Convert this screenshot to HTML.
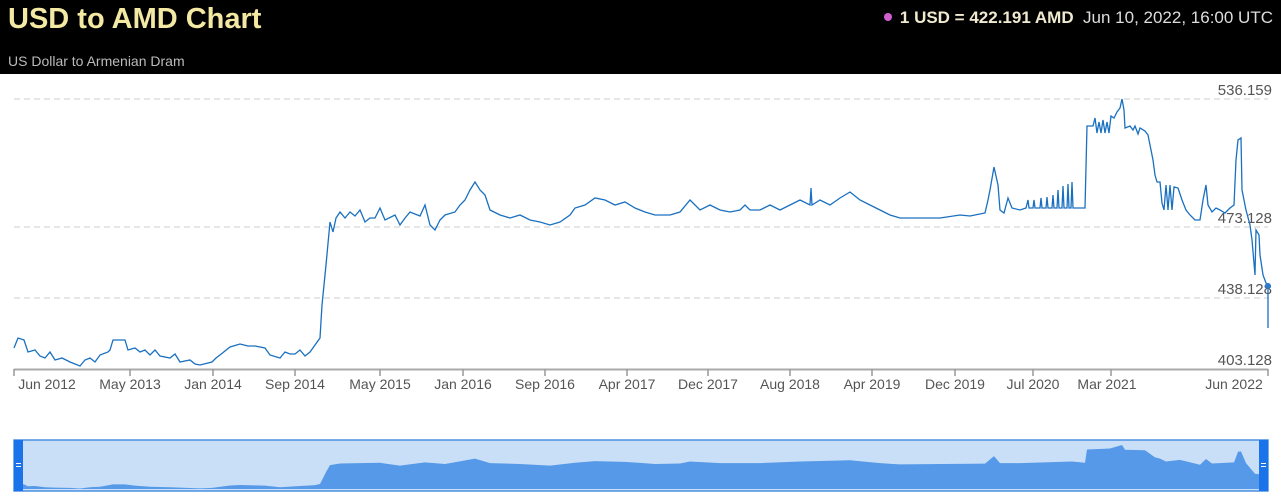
<!DOCTYPE html>
<html><head><meta charset="utf-8"><style>
body{margin:0;width:1281px;height:502px;background:#fff;font-family:"Liberation Sans",sans-serif;overflow:hidden;position:relative}
.hdr{position:absolute;left:0;top:0;width:1281px;height:74px;background:#000}
.t{position:absolute;left:8px;top:3px;font-size:29px;font-weight:bold;color:#f3e9a3}
.s{position:absolute;left:8px;top:53px;font-size:14px;color:#bbb}
.r{position:absolute;right:8px;top:8px;font-size:17px;color:#ddd}
.r b{color:#f0ead0}
.dot{display:inline-block;width:8px;height:8px;border-radius:50%;background:#d060d0;margin-right:8px;vertical-align:2px}
</style></head><body>
<div class="hdr"><div class="t">USD to AMD Chart</div><div class="s">US Dollar to Armenian Dram</div>
<div class="r"><span class="dot"></span><b>1 USD = 422.191 AMD</b>&nbsp; Jun 10, 2022, 16:00 UTC</div></div>
<svg width="1281" height="502" style="position:absolute;left:0;top:0" font-family="Liberation Sans, sans-serif">
<defs>
<path id="ln" d="M14,348 L18,338 L24,340 L28,352 L35,350 L40,356 L45,358 L50,352 L55,360 L62,358 L70,362 L80,366 L85,360 L90,358 L95,362 L100,355 L108,352 L110,350 L113,340 L125,340 L128,350 L135,348 L140,352 L145,350 L150,355 L155,350 L160,356 L170,358 L175,354 L180,362 L190,360 L195,364 L200,365 L212,362 L216,358 L220,355 L230,347 L240,344 L248,346 L255,346 L265,348 L270,355 L280,358 L285,352 L290,354 L295,354 L300,350 L305,356 L310,352 L315,345 L320,338 L322,305 L326,265 L330,222 L333,232 L336,218 L340,212 L345,218 L350,212 L355,216 L360,210 L365,222 L370,218 L375,218 L380,208 L385,220 L395,215 L400,225 L405,218 L410,212 L420,216 L425,205 L430,225 L435,230 L440,220 L445,215 L455,212 L460,205 L465,200 L470,190 L475,182 L480,190 L485,195 L490,210 L500,215 L510,218 L520,215 L530,220 L540,222 L550,225 L560,222 L570,215 L575,208 L585,205 L595,198 L605,200 L615,205 L625,202 L635,208 L645,212 L655,215 L670,215 L680,212 L690,200 L700,210 L710,205 L720,210 L730,212 L740,210 L745,205 L750,210 L760,210 L770,205 L780,210 L790,205 L800,200 L810,205 L811,188 L812,205 L820,200 L830,205 L840,198 L850,192 L860,200 L870,205 L880,210 L890,215 L900,218 L920,218 L940,218 L960,215 L970,216 L985,213 L988,200 L990,190 L994,167 L998,185 L1000,210 L1004,213 L1008,198 L1012,208 L1020,210 L1026,208 L1028,200 L1029,208 L1033,208 L1034,200 L1035,208 L1040,208 L1041,198 L1042,208 L1046,208 L1047,197 L1048,208 L1052,208 L1053,195 L1054,208 L1057,208 L1058,190 L1059,208 L1062,208 L1063,186 L1064,208 L1067,208 L1068,184 L1069,208 L1071,208 L1072,182 L1073,208 L1085,208 L1087,126 L1093,126 L1095,118 L1097,133 L1099,122 L1101,133 L1103,120 L1105,133 L1107,122 L1109,133 L1111,116 L1114,118 L1117,112 L1120,108 L1122,99 L1124,110 L1125,128 L1130,126 L1133,130 L1135,126 L1138,134 L1140,128 L1145,131 L1148,135 L1150,145 L1153,160 L1155,175 L1157,182 L1160,182 L1162,203 L1164,210 L1166,185 L1168,210 L1170,185 L1172,210 L1174,187 L1178,188 L1182,200 L1186,210 L1190,215 L1195,220 L1200,220 L1203,200 L1206,185 L1208,205 L1212,212 L1216,208 L1220,210 L1225,213 L1230,208 L1234,205 L1236,160 L1238,140 L1241,138 L1242,190 L1244,200 L1246,210 L1250,225 L1252,240 L1255,275 L1256,230 L1259,235 L1260,255 L1263,275 L1266,283 L1268,285 L1268,328"/>
</defs>
<g stroke="#d6d6d6" stroke-dasharray="6,4" stroke-width="1.2">
<line x1="14" x2="1268" y1="99" y2="99"/><line x1="14" x2="1268" y1="227" y2="227"/><line x1="14" x2="1268" y1="298" y2="298"/>
</g>
<g fill="#555" font-size="15" text-anchor="end">
<text x="1272" y="95">536.159</text><text x="1272" y="223">473.128</text><text x="1272" y="294">438.128</text><text x="1272" y="365">403.128</text>
</g>
<use href="#ln" fill="none" stroke="#1a70c0" stroke-width="1.3"/>
<circle cx="1268" cy="286" r="3" fill="#2b7ad0"/>
<line x1="14" x2="1268" y1="369.5" y2="369.5" stroke="#aaa" stroke-width="2"/>
<g stroke="#999" stroke-width="1.5">
<line x1="14" x2="14" y1="369" y2="376"/><line x1="130" x2="130" y1="369" y2="376"/><line x1="213" x2="213" y1="369" y2="376"/><line x1="295" x2="295" y1="369" y2="376"/><line x1="380" x2="380" y1="369" y2="376"/><line x1="463" x2="463" y1="369" y2="376"/><line x1="545" x2="545" y1="369" y2="376"/><line x1="627" x2="627" y1="369" y2="376"/><line x1="708" x2="708" y1="369" y2="376"/><line x1="790" x2="790" y1="369" y2="376"/><line x1="872" x2="872" y1="369" y2="376"/><line x1="955" x2="955" y1="369" y2="376"/><line x1="1033" x2="1033" y1="369" y2="376"/><line x1="1111" x2="1111" y1="369" y2="376"/><line x1="1268" x2="1268" y1="369" y2="376"/>
</g>
<g fill="#555" font-size="14" text-anchor="middle">
<text x="47" y="389">Jun 2012</text><text x="130" y="389">May 2013</text><text x="213" y="389">Jan 2014</text><text x="295" y="389">Sep 2014</text><text x="380" y="389">May 2015</text><text x="463" y="389">Jan 2016</text><text x="545" y="389">Sep 2016</text><text x="627" y="389">Apr 2017</text><text x="708" y="389">Dec 2017</text><text x="790" y="389">Aug 2018</text><text x="872" y="389">Apr 2019</text><text x="955" y="389">Dec 2019</text><text x="1033" y="389">Jul 2020</text><text x="1107" y="389">Mar 2021</text><text x="1234" y="389">Jun 2022</text>
</g>
<rect x="14" y="440" width="1254" height="51" fill="#c9dff8" stroke="#4a90e2" stroke-width="1.5"/>
<g transform="translate(0,428.9) scale(1,0.163)">
<path d="M14,369 L14,348 L18,338 L24,340 L28,352 L35,350 L45,358 L55,360 L70,362 L80,366 L90,358 L100,355 L113,340 L125,340 L135,348 L150,355 L170,358 L200,365 L212,362 L230,347 L240,344 L265,348 L280,358 L300,350 L315,345 L320,338 L326,265 L330,222 L340,212 L360,210 L380,208 L400,225 L425,205 L445,215 L475,182 L490,210 L520,215 L550,225 L575,208 L595,198 L625,202 L655,215 L680,212 L690,200 L720,210 L760,210 L800,200 L850,192 L880,210 L900,218 L985,213 L994,167 L1000,210 L1020,210 L1072,200 L1085,208 L1087,126 L1110,120 L1122,99 L1125,128 L1145,131 L1155,175 L1160,182 L1166,200 L1180,190 L1200,220 L1206,185 L1212,212 L1234,205 L1238,140 L1241,138 L1246,210 L1255,275 L1268,285 L1268,369 Z" fill="#5599e8"/>
</g>
<rect x="14" y="440" width="9" height="51" fill="#1a73e8"/><rect x="1259" y="440" width="9" height="51" fill="#1a73e8"/>
<g stroke="#fff" stroke-width="1"><line x1="16" x2="21" y1="463.5" y2="463.5"/><line x1="16" x2="21" y1="466.5" y2="466.5"/><line x1="1261" x2="1266" y1="463.5" y2="463.5"/><line x1="1261" x2="1266" y1="466.5" y2="466.5"/></g>
</svg>
</body></html>
